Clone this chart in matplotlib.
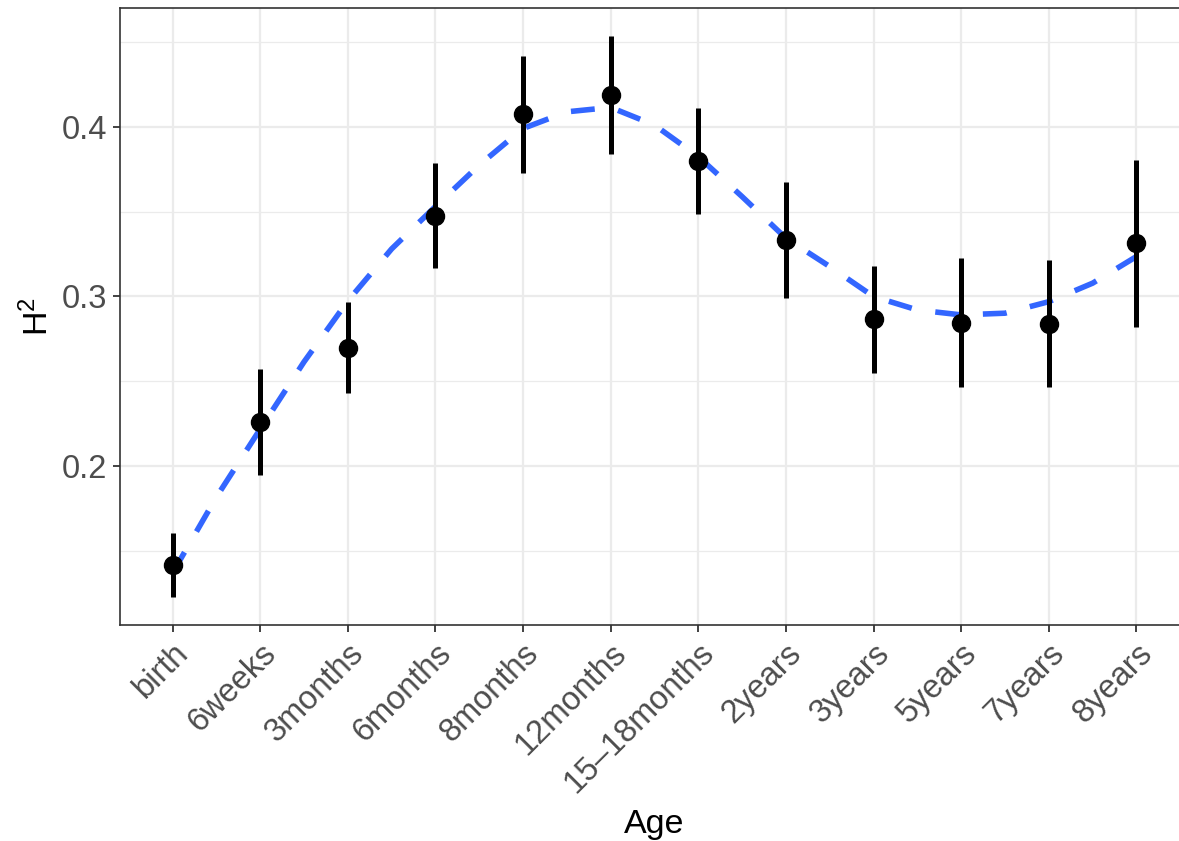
import numpy as np
import matplotlib.pyplot as plt

plt.rcParams['font.family'] = ['Liberation Sans', 'DejaVu Sans']
plt.rcParams['mathtext.fontset'] = 'custom'
plt.rcParams['mathtext.rm'] = 'Liberation Sans'
plt.rcParams['mathtext.it'] = 'Liberation Sans'

# data
ages = ["birth", "6weeks", "3months", "6months", "8months", "12months",
        "15\u201318months", "2years", "3years", "5years", "7years", "8years"]
h2 = [0.1417, 0.2257, 0.2697, 0.3476, 0.4073, 0.4187,
      0.3796, 0.3333, 0.2866, 0.2846, 0.2840, 0.3317]
h2_low = [0.1230, 0.1947, 0.2428, 0.3166, 0.3725, 0.3839,
          0.3486, 0.2991, 0.2547, 0.2465, 0.2465, 0.2822]
h2_high = [0.1603, 0.2572, 0.2968, 0.3789, 0.4418, 0.4534,
           0.4108, 0.3677, 0.3181, 0.3225, 0.3215, 0.3804]

# smooth trend, read at every half category step
trend_pos = [0, 0.5, 1, 1.5, 2, 2.5, 3, 3.5, 4, 4.5, 5, 5.5,
             6, 6.5, 7, 7.5, 8, 8.5, 9, 9.5, 10, 10.5, 11]
trend_val = [0.1370, 0.1817, 0.2218, 0.2614, 0.2973, 0.3280, 0.3530, 0.3774,
             0.3990, 0.4088, 0.4114, 0.4010, 0.3824, 0.3588, 0.3343, 0.3176,
             0.2999, 0.2920, 0.2891, 0.2901, 0.2969, 0.3078, 0.3235]

W, H = 1179, 841
fig = plt.figure(figsize=(W / 100, H / 100), dpi=100)
ax = fig.add_axes([120 / W, 1 - 625 / H, (1189 - 120) / W, (625 - 8) / H])

x = np.arange(len(ages))
ax.plot(trend_pos, trend_val, color='#3366FF', lw=4.0, dashes=(4.3, 4.3),
        solid_capstyle='butt', dash_capstyle='butt', zorder=3)
h2 = np.array(h2)
yerr = [h2 - np.array(h2_low), np.array(h2_high) - h2]
ax.errorbar(x, h2, yerr=yerr, fmt='o', color='black', ms=13, elinewidth=3.6,
            capsize=0, zorder=4)

ax.set_xlim(-0.6, 11.6)
ax.set_ylim(0.1063, 0.470)
ax.set_xticks(x)
ax.set_xticklabels(ages, rotation=45, ha='right', va='top', rotation_mode='anchor')
ax.set_yticks([0.2, 0.3, 0.4])
ax.set_yticklabels(['0.2', '0.3', '0.4'])
ax.set_yticks([0.15, 0.25, 0.35, 0.45], minor=True)
ax.grid(True, which='major', color='#EBEBEB', lw=1.6)
ax.grid(True, which='minor', axis='y', color='#EBEBEB', lw=0.9)
ax.set_axisbelow(True)
ax.tick_params(axis='both', which='major', labelsize=23.5, colors='#333333',
               length=5, width=1.3, labelcolor='#4D4D4D', pad=4)
ax.tick_params(axis='y', which='minor', length=0)
for s in ax.spines.values():
    s.set_color('#333333')
    s.set_linewidth(1.2)

ax.set_xlabel('Age', fontsize=24.5, labelpad=7)
ax.set_ylabel('H$^2$', fontsize=24.5, labelpad=5)

fig.savefig('out.png', dpi=100)
